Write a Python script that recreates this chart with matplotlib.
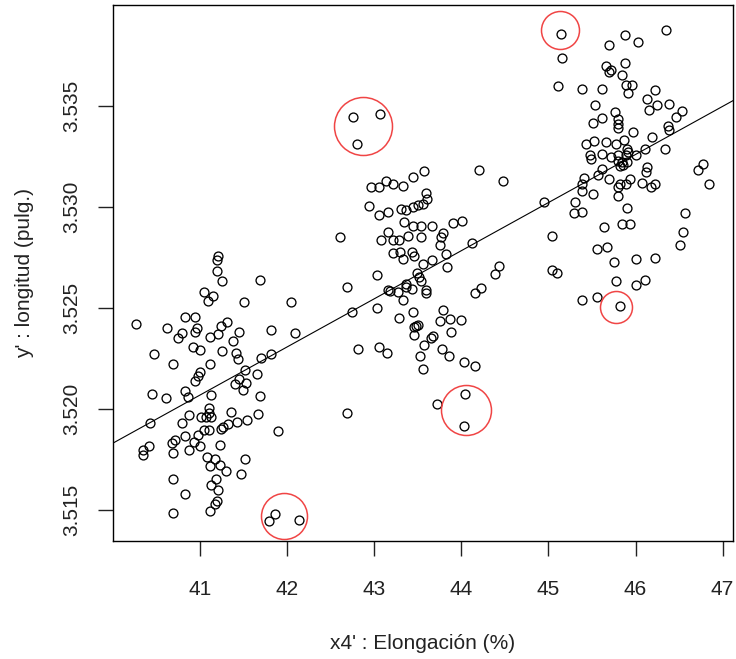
import matplotlib
matplotlib.use('Agg')
import matplotlib.pyplot as plt
import numpy as np

# x4' : elongation (%) and y' : length (in)
elong = [
    # left cluster (~41 %)
    41.21, 41.20, 41.19, 41.25, 41.69, 41.05, 41.15, 41.09, 41.50, 42.04,
    40.27, 40.83, 40.94, 40.62, 40.97, 41.31, 41.24, 40.79, 40.94, 40.75,
    41.11, 41.21, 41.45, 41.38, 41.82, 42.09, 40.92, 41.00, 41.25, 40.47,
    41.41, 40.69, 41.11, 41.43, 41.70, 41.82, 41.00, 40.98, 40.94, 41.52,
    41.65, 41.45, 41.40, 41.53, 41.49, 40.83, 40.45, 40.61, 40.86, 41.12,
    41.69, 41.10, 41.10, 41.01, 41.07, 41.12, 40.87, 40.79, 41.35, 41.66,
    41.42, 41.54, 41.32, 41.26, 41.24, 41.89, 40.42, 41.10, 41.05, 40.98,
    40.83, 40.71, 40.68, 40.93, 41.00, 40.87, 40.41, 40.34, 40.35, 40.69,
    41.23, 41.08, 41.17, 41.11, 41.23, 41.30, 41.52, 41.47, 40.69, 41.18,
    41.12, 41.21, 40.83, 41.19, 41.17, 41.11, 40.69, 41.86, 41.79, 42.14,
    # middle cluster (~43.5 %)
    42.76, 43.07, 42.80, 44.20, 44.48, 43.57, 43.45, 43.13, 43.22, 43.33,
    42.96, 43.05, 43.59, 43.61, 43.56, 43.50, 43.44, 43.31, 43.36, 42.94,
    43.16, 43.05, 43.34, 43.45, 43.54, 43.66, 43.91, 44.01, 42.61, 43.08,
    43.16, 43.22, 43.28, 43.39, 43.54, 43.79, 43.77, 43.75, 44.12, 43.22,
    43.29, 43.43, 43.46, 43.82, 43.66, 43.33, 43.56, 43.84, 44.43, 44.39,
    43.03, 43.49, 43.51, 43.54, 42.69, 43.16, 43.18, 43.36, 43.37, 43.27,
    43.43, 43.59, 43.59, 44.23, 44.16, 43.33, 43.03, 42.74, 43.45, 43.79,
    43.28, 43.76, 43.87, 44.00, 43.46, 43.48, 43.50, 43.46, 43.88, 43.68,
    43.65, 43.57, 42.81, 43.05, 43.15, 43.78, 43.86, 43.53, 44.03, 44.16,
    43.56, 43.72, 44.04, 44.03, 42.69,
    # right cluster (~45.8 %)
    45.15, 45.16, 45.88, 46.03, 46.35, 45.69, 45.88, 45.66, 45.72, 45.69,
    45.85, 45.11, 45.39, 45.62, 45.89, 45.96, 45.91, 46.22, 46.13, 46.25,
    46.39, 46.15, 45.53, 45.77, 45.80, 45.80, 45.80, 45.62, 45.51, 46.53,
    46.47, 46.37, 46.39, 45.97, 46.19, 45.43, 45.52, 45.66, 45.78, 45.87,
    46.34, 46.11, 45.90, 45.91, 45.48, 45.49, 45.62, 45.72, 45.80, 45.80,
    45.84, 45.86, 45.89, 45.90, 46.00, 45.82, 45.62, 46.13, 46.12, 46.77,
    46.72, 46.84, 45.57, 45.69, 45.41, 45.39, 45.82, 45.89, 45.94, 46.08,
    46.18, 46.22, 45.80, 45.38, 45.51, 45.80, 44.95, 45.31, 45.90, 45.29,
    45.39, 46.57, 45.85, 45.94, 45.64, 46.54, 45.04, 46.51, 45.56, 45.67,
    45.75, 46.01, 46.22, 45.04, 45.10, 45.78, 46.00, 46.11, 45.38, 45.56,
    45.82,
]
longitud = [
    3.52759, 3.52738, 3.52685, 3.52634, 3.52642, 3.52578, 3.52561, 3.52536, 3.52533, 3.52533,
    3.52424, 3.52454, 3.52454, 3.52402, 3.52404, 3.52434, 3.52411, 3.52378, 3.52383, 3.52351,
    3.52358, 3.52370, 3.52381, 3.52337, 3.52394, 3.52375, 3.52308, 3.52292, 3.52289, 3.52272,
    3.52279, 3.52226, 3.52226, 3.52246, 3.52252, 3.52271, 3.52185, 3.52163, 3.52140, 3.52193,
    3.52172, 3.52147, 3.52127, 3.52130, 3.52097, 3.52091, 3.52074, 3.52054, 3.52061, 3.52069,
    3.52066, 3.52005, 3.51979, 3.51959, 3.51959, 3.51959, 3.51970, 3.51932, 3.51987, 3.51975,
    3.51936, 3.51946, 3.51929, 3.51912, 3.51904, 3.51893, 3.51932, 3.51896, 3.51896, 3.51871,
    3.51866, 3.51847, 3.51833, 3.51838, 3.51820, 3.51800, 3.51817, 3.51800, 3.51771, 3.51781,
    3.51822, 3.51761, 3.51751, 3.51718, 3.51723, 3.51695, 3.51754, 3.51677, 3.51653, 3.51653,
    3.51624, 3.51602, 3.51579, 3.51546, 3.51530, 3.51497, 3.51487, 3.51479, 3.51444, 3.51450,
    3.53447, 3.53464, 3.53312, 3.53186, 3.53130, 3.53180, 3.53150, 3.53130, 3.53114, 3.53104,
    3.53100, 3.53100, 3.53068, 3.53043, 3.53018, 3.53010, 3.53001, 3.52993, 3.52985, 3.53005,
    3.52977, 3.52960, 3.52927, 3.52906, 3.52906, 3.52906, 3.52924, 3.52932, 3.52853, 3.52840,
    3.52878, 3.52837, 3.52840, 3.52856, 3.52853, 3.52870, 3.52853, 3.52812, 3.52825, 3.52774,
    3.52779, 3.52779, 3.52757, 3.52767, 3.52741, 3.52746, 3.52721, 3.52704, 3.52708, 3.52667,
    3.52663, 3.52675, 3.52655, 3.52635, 3.52605, 3.52592, 3.52586, 3.52622, 3.52605, 3.52581,
    3.52597, 3.52592, 3.52576, 3.52600, 3.52573, 3.52543, 3.52503, 3.52482, 3.52482, 3.52490,
    3.52452, 3.52437, 3.52445, 3.52440, 3.52407, 3.52411, 3.52416, 3.52366, 3.52383, 3.52361,
    3.52350, 3.52317, 3.52300, 3.52308, 3.52276, 3.52300, 3.52262, 3.52262, 3.52234, 3.52213,
    3.52201, 3.52025, 3.52074, 3.51917, 3.51982,
    3.53860, 3.53739, 3.53851, 3.53818, 3.53876, 3.53802, 3.53716, 3.53698, 3.53678, 3.53670,
    3.53657, 3.53600, 3.53587, 3.53587, 3.53607, 3.53607, 3.53568, 3.53579, 3.53538, 3.53508,
    3.53513, 3.53483, 3.53508, 3.53472, 3.53439, 3.53414, 3.53394, 3.53442, 3.53419, 3.53475,
    3.53447, 3.53402, 3.53381, 3.53373, 3.53348, 3.53315, 3.53327, 3.53323, 3.53315, 3.53332,
    3.53290, 3.53290, 3.53290, 3.53274, 3.53257, 3.53241, 3.53262, 3.53249, 3.53257, 3.53229,
    3.53224, 3.53208, 3.53257, 3.53224, 3.53257, 3.53203, 3.53191, 3.53199, 3.53172, 3.53216,
    3.53186, 3.53114, 3.53158, 3.53142, 3.53147, 3.53117, 3.53117, 3.53117, 3.53142, 3.53122,
    3.53100, 3.53117, 3.53099, 3.53081, 3.53064, 3.53056, 3.53026, 3.53025, 3.52995, 3.52969,
    3.52977, 3.52969, 3.52919, 3.52919, 3.52902, 3.52875, 3.52858, 3.52815, 3.52795, 3.52803,
    3.52729, 3.52746, 3.52751, 3.52688, 3.52672, 3.52635, 3.52614, 3.52642, 3.52543, 3.52556,
    3.52511,
]

# highlighted (suspect) observations: centre x, centre y, radius in pixels
mark_x = [42.87, 45.13, 44.05, 45.78, 41.96]
mark_y = [3.53403, 3.53880, 3.51995, 3.52505, 3.51470]
mark_r = [29, 19, 25, 16, 23]

x_ticks = [41, 42, 43, 44, 45, 46, 47]
y_ticks = [3.515, 3.520, 3.525, 3.530, 3.535]

plt.rcParams['font.family'] = ['Liberation Sans', 'DejaVu Sans']

fig = plt.figure(figsize=(7.36, 6.59), dpi=100)
ax = fig.add_axes([0.1535, 0.179, 0.8425, 0.813])

ax.plot(elong, longitud, linestyle='none', marker='o', markersize=6.4,
        markerfacecolor='none', markeredgecolor='black', markeredgewidth=0.95)

# least squares fit, drawn across the whole panel like abline(lm(...))
slope, intercept = np.polyfit(elong, longitud, 1)
ax.axline((44.0, intercept + slope * 44.0), slope=slope, color='black', linewidth=0.8)

for cx, cy, r in zip(mark_x, mark_y, mark_r):
    ax.plot(cx, cy, marker='o', markersize=2 * r * 0.72, markerfacecolor='none',
            markeredgecolor='#f04545', markeredgewidth=1.1)

ax.set_xlim(40.0, 47.12)
ax.set_ylim(3.51347, 3.5400)
ax.set_xticks(x_ticks)
ax.set_xticklabels([str(t) for t in x_ticks])
ax.set_yticks(y_ticks)
ax.set_yticklabels(['%.3f' % t for t in y_ticks], rotation=90, va='center')
ax.tick_params(axis='both', length=11, width=1.0, labelsize=15, colors='#222222', pad=17)
ax.tick_params(axis='y', pad=12)
for sp in ax.spines.values():
    sp.set_linewidth(1.0)

ax.set_xlabel("x4' : Elongación (%)", fontsize=15, color='#222222', labelpad=25)
ax.set_ylabel("y' : longitud (pulg.)", fontsize=15, color='#222222', labelpad=20)

fig.savefig('out.png', dpi=100)
